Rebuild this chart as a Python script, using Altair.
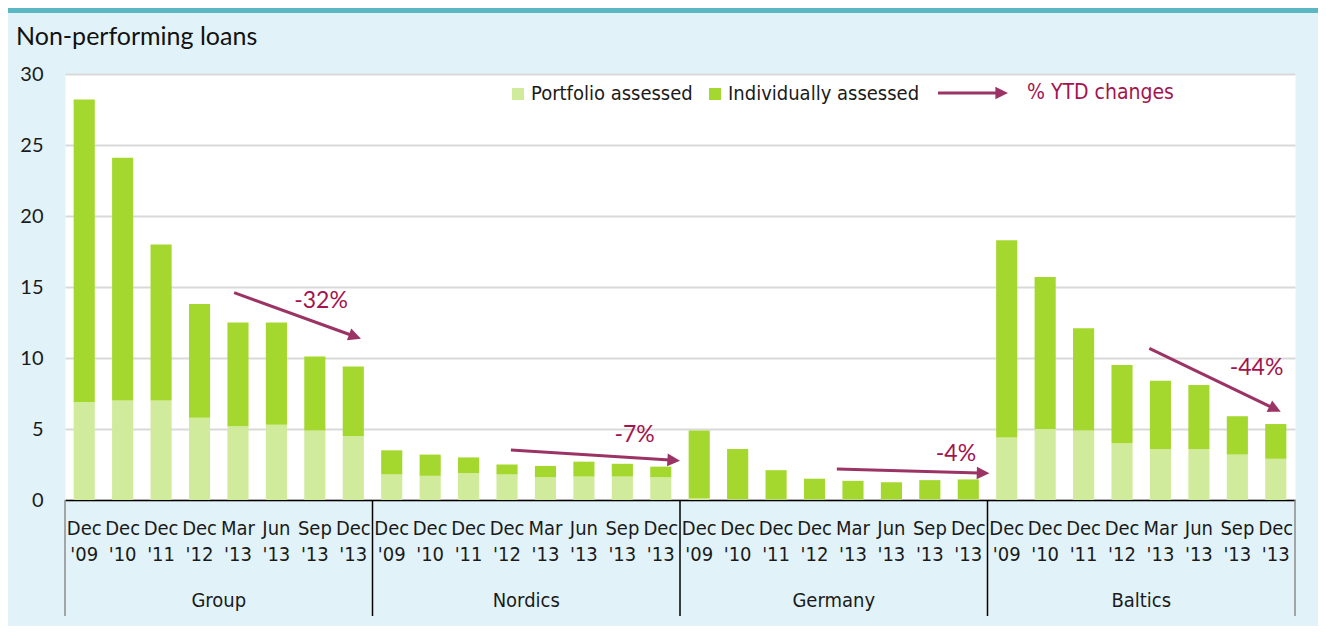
import math
import altair as alt
import pandas as pd

# ---------------- data ----------------
regions = ["Group", "Nordics", "Germany", "Baltics"]
period_months = ["Dec", "Dec", "Dec", "Dec", "Mar", "Jun", "Sep", "Dec"]
period_years = ["'09", "'10", "'11", "'12", "'13", "'13", "'13", "'13"]
series_names = ["Portfolio assessed", "Individually assessed"]

portfolio_group = [6.9, 7.0, 7.0, 5.8, 5.2, 5.3, 4.9, 4.5]
individual_group = [21.3, 17.1, 11.0, 8.0, 7.3, 7.2, 5.2, 4.9]
portfolio_nordics = [1.8, 1.7, 1.9, 1.8, 1.6, 1.65, 1.65, 1.6]
individual_nordics = [1.7, 1.5, 1.1, 0.7, 0.8, 1.05, 0.9, 0.75]
portfolio_germany = [0.1, 0.05, 0.05, 0.05, 0.05, 0.05, 0.05, 0.05]
individual_germany = [4.8, 3.55, 2.05, 1.45, 1.3, 1.2, 1.35, 1.4]
portfolio_baltics = [4.4, 5.0, 4.9, 4.0, 3.6, 3.6, 3.2, 2.9]
individual_baltics = [13.9, 10.7, 7.2, 5.5, 4.8, 4.5, 2.7, 2.45]

# % YTD change annotations (arrow from start to tip, in data units)
ytd_labels = ["-32%", "-7%", "-4%", "-44%"]
arrow_x_start = [4.40, 11.60, 20.08, 28.21]
arrow_y_start = [14.6, 3.52, 2.18, 10.68]
arrow_x_tip = [7.70, 16.0, 24.05, 31.63]
arrow_y_tip = [11.36, 2.77, 1.88, 6.22]
label_x = [6.66, 14.82, 23.18, 31.0]
label_y = [14.0, 4.58, 3.24, 9.30]

y_ticks = [0, 5, 10, 15, 20, 25, 30]

# ---------------- styles ----------------
BG = "#e1f3f8"
TEAL = "#5bb7c4"
LIGHT = "#d0eb9c"
GREEN = "#a5d82f"
ARROW = "#9b3465"
CRIMSON = "#a3144e"
GRID = "#d9d9d9"
TXT = "#1a1a1a"
FONT = "Lato"
COND = "DejaVu Sans Condensed, Liberation Sans Narrow, sans-serif"

PLOT_W, PLOT_H = 1230, 426
N = len(regions) * len(period_months)
XS = alt.Scale(domain=[0, N], nice=False, zero=False)
YS = alt.Scale(domain=[0, 30], nice=False)
ARROW_PATH = "M0,0L-1,2L1,2Z"
HEAD_SIZE = 160

# ---------------- tables ----------------
port = [portfolio_group, portfolio_nordics, portfolio_germany, portfolio_baltics]
indiv = [individual_group, individual_nordics, individual_germany, individual_baltics]
rows = []
cats = []
for r, reg in enumerate(regions):
    for p in range(len(period_months)):
        i = r * len(period_months) + p
        pv, iv = port[r][p], indiv[r][p]
        rows.append({"i": i, "series": series_names[0], "lo": 0.0, "hi": pv})
        rows.append({"i": i, "series": series_names[1], "lo": pv, "hi": pv + iv})
        cats.append({"xc": i + 0.5, "month": period_months[p], "year": period_years[p]})
bars_df = pd.DataFrame(rows)
cats_df = pd.DataFrame(cats)
groups_df = pd.DataFrame({"region": regions,
                          "xc": [r * 8 + 4 for r in range(len(regions))]})
div_df = pd.DataFrame({"b": [r * 8 for r in range(len(regions) + 1)]})

sx, sy = PLOT_W / N, PLOT_H / 30
arr = []
for k in range(len(ytd_labels)):
    dxp = (arrow_x_tip[k] - arrow_x_start[k]) * sx
    dyp = (arrow_y_start[k] - arrow_y_tip[k]) * sy
    L = math.hypot(dxp, dyp)
    ux, uy = dxp / L, dyp / L
    arr.append({
        "x1": arrow_x_start[k], "y1": arrow_y_start[k],
        "xe": arrow_x_tip[k] - ux * 10 / sx, "ye": arrow_y_tip[k] + uy * 10 / sy,
        "xt": arrow_x_tip[k], "yt": arrow_y_tip[k],
        "ang": 90 + math.degrees(math.atan2(dyp, dxp)),
        "lab": ytd_labels[k], "lx": label_x[k], "ly": label_y[k],
    })
arr_df = pd.DataFrame(arr)
one = pd.DataFrame({"k": [0]})

# ---------------- layers ----------------
bars = alt.Chart(bars_df).transform_calculate(
    x0="datum.i + 0.225", x1="datum.i + 0.775"
).mark_bar().encode(
    x=alt.X("x0:Q", scale=XS, title=None,
            axis=alt.Axis(domain=True, domainColor="#000000", domainWidth=1.5,
                          labels=False, ticks=False, grid=False)),
    x2="x1:Q",
    y=alt.Y("hi:Q", scale=YS, title=None,
            axis=alt.Axis(values=y_ticks, domain=False, ticks=False, grid=True,
                          gridColor=GRID, gridWidth=2, labelFont=FONT,
                          labelFontSize=20, labelColor=TXT, labelPadding=22)),
    y2="lo:Q",
    color=alt.Color("series:N",
                    scale=alt.Scale(domain=series_names, range=[LIGHT, GREEN]),
                    legend=alt.Legend(title=None, orient="none", legendX=443, legendY=10,
                                      direction="horizontal", symbolType="square",
                                      symbolSize=144, symbolStrokeWidth=0,
                                      labelFont=COND, labelFontSize=20, labelColor=TXT,
                                      labelLimit=400, labelOffset=3, columnPadding=12,
                                      padding=0)),
)

arrow_lines = alt.Chart(arr_df).mark_rule(color=ARROW, strokeWidth=3).encode(
    x=alt.X("x1:Q", scale=XS, title=None), y=alt.Y("y1:Q", scale=YS, title=None),
    x2="xe:Q", y2="ye:Q")
arrow_heads = alt.Chart(arr_df).mark_point(
    shape=ARROW_PATH, filled=True, color=ARROW, size=HEAD_SIZE, opacity=1, strokeWidth=0
).encode(x=alt.X("xt:Q", scale=XS, title=None), y=alt.Y("yt:Q", scale=YS, title=None),
         angle=alt.Angle("ang:Q", scale=None))
arrow_text = alt.Chart(arr_df).mark_text(
    font=FONT, fontSize=23, color=CRIMSON, align="center", baseline="middle"
).encode(x=alt.X("lx:Q", scale=XS, title=None), y=alt.Y("ly:Q", scale=YS, title=None),
         text="lab:N")

month_text = alt.Chart(cats_df).mark_text(
    font=COND, fontSize=20, color=TXT, align="center", baseline="alphabetic"
).encode(x=alt.X("xc:Q", scale=XS, title=None), y=alt.value(PLOT_H + 35), text="month:N")
year_text = alt.Chart(cats_df).mark_text(
    font=COND, fontSize=20, color=TXT, align="center", baseline="alphabetic"
).encode(x=alt.X("xc:Q", scale=XS, title=None), y=alt.value(PLOT_H + 61), text="year:N")
group_text = alt.Chart(groups_df).mark_text(
    font=COND, fontSize=20, color=TXT, align="center", baseline="alphabetic"
).encode(x=alt.X("xc:Q", scale=XS, title=None), y=alt.value(PLOT_H + 107), text="region:N")
dividers = alt.Chart(div_df).mark_rule(strokeWidth=1.5).encode(
    x=alt.X("b:Q", scale=XS, title=None), y=alt.value(PLOT_H), y2=alt.value(PLOT_H + 116),
    color=alt.condition("datum.b == 0 || datum.b == 32",
                        alt.value("#8c8c8c"), alt.value("#000000")))

teal_bar = alt.Chart(one).mark_rule(color=TEAL, strokeWidth=5).encode(
    x=alt.value(-57), x2=alt.value(1253), y=alt.value(-63.5))
title = alt.Chart(one).mark_text(
    font=FONT, fontSize=25, color="#111111", align="left", baseline="alphabetic"
).encode(x=alt.value(-49), y=alt.value(-29), text=alt.value("Non-performing loans"))
legend_arrow = alt.Chart(one).mark_rule(color=ARROW, strokeWidth=3).encode(
    x=alt.value(873), x2=alt.value(932), y=alt.value(19))
legend_head = alt.Chart(one).mark_point(
    shape=ARROW_PATH, filled=True, color=ARROW, size=HEAD_SIZE, opacity=1, strokeWidth=0,
    angle=90
).encode(x=alt.value(943), y=alt.value(19))
legend_text = alt.Chart(one).mark_text(
    font=COND, fontSize=21, color=CRIMSON, align="left", baseline="middle"
).encode(x=alt.value(962), y=alt.value(19), text=alt.value("% YTD changes"))

chart = alt.layer(
    bars, arrow_lines, arrow_heads, arrow_text, month_text, year_text, group_text,
    dividers, teal_bar, title, legend_arrow, legend_head, legend_text
).properties(
    width=PLOT_W, height=PLOT_H,
    autosize=alt.AutoSizeParams(type="none"),
    padding={"left": 57, "right": 23, "top": 66, "bottom": 126},
    background=BG,
).configure_view(fill="white", stroke="transparent")

chart.save("out.html", embed_options={"renderer": "svg", "actions": False})
